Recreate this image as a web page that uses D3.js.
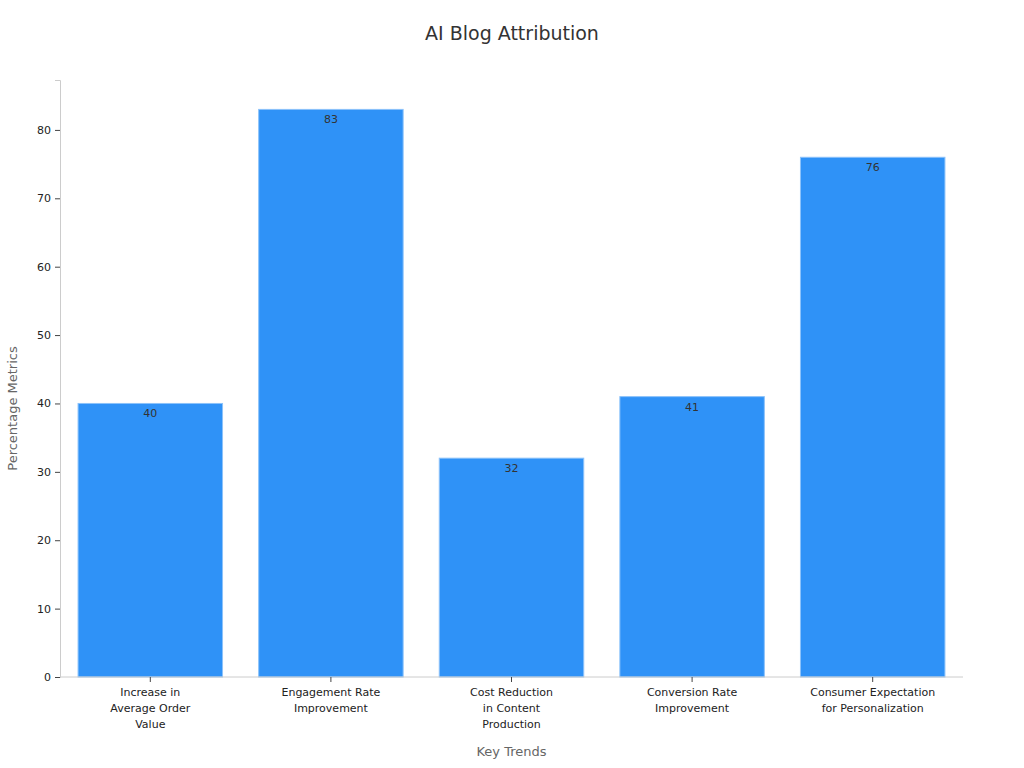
<!DOCTYPE html>
<html>
<head>
<meta charset="utf-8">
<script src="https://cdn.jsdelivr.net/npm/d3@7"></script>
<style>
  body { margin: 0; background: #fff; font-family: "DejaVu Sans", sans-serif; }
</style>
</head>
<body>
<svg width="1024" height="768"></svg>
<script>
const categories = [
  ['Increase in', 'Average Order', 'Value'],
  ['Engagement Rate', 'Improvement'],
  ['Cost Reduction', 'in Content', 'Production'],
  ['Conversion Rate', 'Improvement'],
  ['Consumer Expectation', 'for Personalization']
];
const values = [40, 83, 32, 41, 76];
const yTicks = [0, 10, 20, 30, 40, 50, 60, 70, 80];

const margin = { left: 60, right: 61, top: 80, bottom: 91 };
const width = 1024, height = 768;
const svg = d3.select('svg');

const x = d3.scaleBand()
  .domain(d3.range(values.length))
  .range([margin.left, width - margin.right])
  .paddingInner(0.2)
  .paddingOuter(0.1);

const y = d3.scaleLinear()
  .domain([0, 87.3])
  .range([height - margin.bottom, margin.top]);

// bars
svg.selectAll('rect.bar')
  .data(values)
  .join('rect')
  .attr('class', 'bar')
  .attr('x', (d, i) => x(i))
  .attr('y', d => y(d))
  .attr('width', x.bandwidth())
  .attr('height', d => y(0) - y(d))
  .attr('fill', '#2f92f7')
  .attr('stroke', '#8cc2fa')
  .attr('stroke-width', 1);

svg.selectAll('text.val')
  .data(values)
  .join('text')
  .attr('class', 'val')
  .attr('x', (d, i) => x(i) + x.bandwidth() / 2)
  .attr('y', d => y(d) + 14)
  .attr('text-anchor', 'middle')
  .attr('font-size', 11)
  .attr('fill', '#333')
  .text(d => d);

// y axis
const yAxis = svg.append('g')
  .attr('transform', `translate(${margin.left},0)`)
  .call(d3.axisLeft(y).tickValues(yTicks).tickSize(5).tickPadding(4));
yAxis.select('.domain').attr('stroke', '#ccc');
yAxis.selectAll('.tick line').attr('stroke', '#444');
yAxis.selectAll('.tick text').attr('font-size', 11).attr('fill', '#222')
  .attr('font-family', '"DejaVu Sans", sans-serif');

// x axis
const xAxis = svg.append('g')
  .attr('transform', `translate(0,${y(0)})`)
  .call(d3.axisBottom(x).tickSize(5).tickFormat(''));
xAxis.select('.domain').attr('stroke', '#ccc')
  .attr('d', `M${margin.left},0H${width - margin.right}`);
xAxis.selectAll('.tick line').attr('stroke', '#444');

xAxis.selectAll('.tick').each(function (d) {
  const t = d3.select(this).append('text')
    .attr('text-anchor', 'middle')
    .attr('font-size', 11)
    .attr('fill', '#222')
    .attr('font-family', '"DejaVu Sans", sans-serif');
  categories[d].forEach((line, k) => {
    t.append('tspan').attr('x', 0).attr('y', 19 + k * 16).text(line);
  });
});

// titles
svg.append('text')
  .attr('x', width / 2).attr('y', 40)
  .attr('text-anchor', 'middle')
  .attr('font-size', 19)
  .attr('fill', '#333')
  .text('AI Blog Attribution');

svg.append('text')
  .attr('x', (margin.left + width - margin.right) / 2).attr('y', 756)
  .attr('text-anchor', 'middle')
  .attr('font-size', 13)
  .attr('fill', '#666')
  .text('Key Trends');

svg.append('text')
  .attr('transform', `translate(17,${(margin.top + y(0)) / 2 + 30}) rotate(-90)`)
  .attr('text-anchor', 'middle')
  .attr('font-size', 13)
  .attr('fill', '#666')
  .text('Percentage Metrics');
</script>
</body>
</html>
